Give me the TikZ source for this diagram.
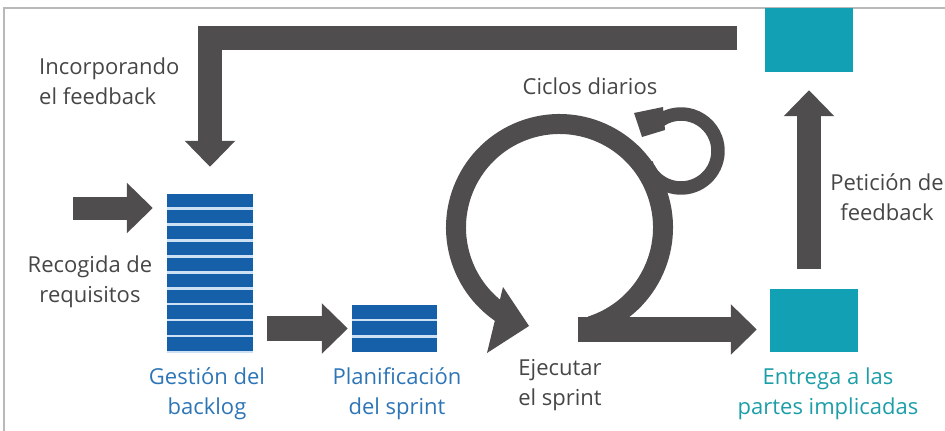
\documentclass[tikz,border=0pt]{standalone}
\usepackage{fontspec}
\setmainfont{Open Sans}
\usetikzlibrary{arrows.meta}
\definecolor{arrowgray}{RGB}{80,77,78}
\definecolor{barblue}{RGB}{22,96,170}
\definecolor{gapblue}{RGB}{205,225,245}
\definecolor{tealbox}{RGB}{18,160,180}
\definecolor{textgray}{RGB}{70,70,70}
\definecolor{textblue}{RGB}{46,117,182}
\definecolor{textteal}{RGB}{28,158,168}
\definecolor{framegray}{RGB}{185,185,185}
\begin{document}
\begin{tikzpicture}[x=1pt,y=-1pt,
  bigarrow/.style={draw=arrowgray, line width=24pt, line cap=butt,
    -{Triangle[length=26pt,width=49pt]}},
  ringline/.style={draw=arrowgray, line cap=butt},
  stack/.style={fill=gapblue, inner sep=0pt, minimum width=86pt},
  fbbox/.style={fill=tealbox, inner sep=0pt, minimum width=88pt, minimum height=64pt},
  lbl/.style={font=\fontsize{22}{30}\selectfont, inner sep=0pt, align=center},
]
\useasboundingbox (0,0) rectangle (945,431);
% frame
\draw[framegray, line width=1.2pt] (945,8) -- (4,8) -- (4,431);

% stacks
\node[stack, minimum height=159pt] (backlog) at (210,273.5) {};
\foreach \i in {0,...,9}
  \fill[barblue] (backlog.north west) ++(0,\i*15.95) rectangle ++(86,13.6);
\node[stack, minimum width=85pt, minimum height=47pt] (plan) at (394.5,328.5) {};
\foreach \i in {0,1,2}
  \fill[barblue] (plan.north west) ++(0,\i*16.5) rectangle ++(85,14);

% teal boxes
\node[fbbox] (top) at (809,40) {};
\node[fbbox, minimum height=63pt] (deliv) at (814,320.5) {};

% straight arrows
\coordinate (inStart) at (73,208);
\draw[bigarrow, line width=23pt, shorten >=14pt] (inStart) -- (inStart -| backlog.west);
\draw[bigarrow, line width=25pt, shorten <=14pt, shorten >=4pt] (backlog.east |- plan.center) -- (plan.west);
\coordinate (execOut) at (578,329.5);
\draw[bigarrow, line width=25pt, shorten >=13pt] (execOut) -- (execOut -| deliv.west);
\draw[bigarrow, line width=24pt, shorten <=20pt, shorten >=18pt] (top.south |- deliv.north) -- (top.south);
\draw[bigarrow, line width=24pt, line join=miter, shorten <=28pt, shorten >=27pt]
  ([yshift=2pt]top.west) -- ([yshift=2pt]top.west -| backlog.north) -- (backlog.north);

% big loop (execute sprint)
\coordinate (ringC) at (559.5,227.5);
\draw[ringline, line width=20pt] (ringC) ++(72:103.5) arc[start angle=72, end angle=-238, radius=103.5];
\fill[arrowgray] (503,287) -- (529,326) -- (487,353) -- cycle;

% daily loop
\coordinate (loopC) at (681,151);
\draw[ringline, line width=13.5pt] (loopC) ++(-200:37) arc[start angle=-200, end angle=-486, radius=37];
\fill[arrowgray] (634,113) -- (663,107) -- (665,130) -- (642,137) -- cycle;

% labels
\node[lbl, text=textgray, anchor=west, align=left] (lfb) at (39,81.5) {Incorporando\\el feedback};
\node[lbl, text=textgray] (lreq) at (90,282) {Recogida de\\requisitos};
\node[lbl, text=textblue] (lback) at (207,394) {Gestión del\\backlog};
\node[lbl, text=textblue] (lplan) at (397,394) {Planificación\\del sprint};
\node[lbl, text=textgray] (lexec) at (560,385) {Ejecutar\\el sprint};
\node[lbl, text=textteal] (ldel) at (828,394) {Entrega a las\\partes implicadas};
\node[lbl, text=textgray] (ldaily) at (590,86) {Ciclos diarios};
\node[lbl, text=textgray] (lpet) at (887,197.5) {Petición de\\feedback};
\end{tikzpicture}
\end{document}
